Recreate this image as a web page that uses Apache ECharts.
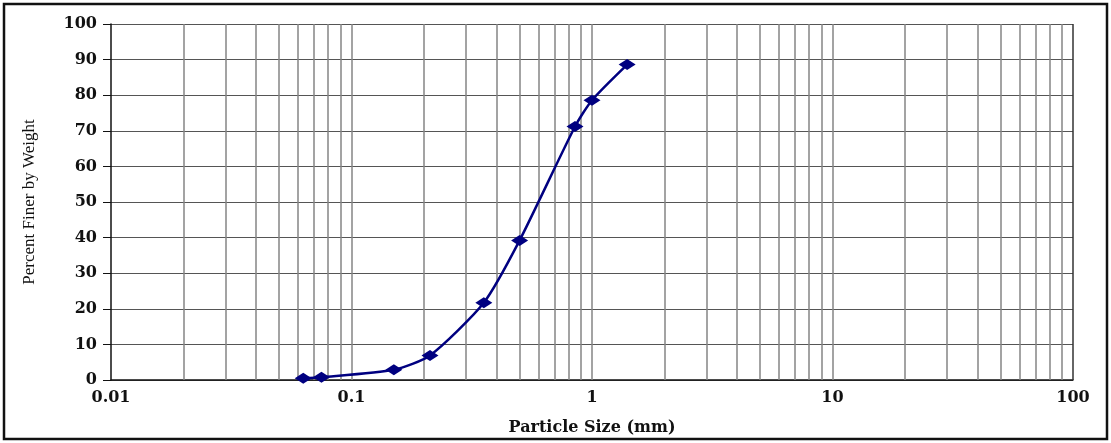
<!DOCTYPE html>
<html><head><meta charset="utf-8">
<script src="https://cdn.jsdelivr.net/npm/echarts@6/dist/echarts.min.js"></script>
<style>html,body{margin:0;padding:0;background:#fff}#c{width:1111px;height:443px}</style>
</head><body><div id="c"></div>
<script>
const particleSize = [0.063, 0.075, 0.15, 0.212, 0.355, 0.5, 0.85, 1.0, 1.4];
const percentFiner = [0.5, 0.8, 2.9, 6.9, 21.7, 39.2, 71.2, 78.6, 88.6];
const minorGrid = [0.02,0.03,0.04,0.05,0.06,0.07,0.08,0.09,
                   0.2,0.3,0.4,0.5,0.6,0.7,0.8,0.9,
                   2,3,4,5,6,7,8,9,
                   20,30,40,50,60,70,80,90,
                   0.1,1,10];
const xTickLabels = {"0.01":"0.01","0.1":"0.1","1":"1","10":"10","100":"100"};

const chart = echarts.init(document.getElementById('c'), null, {renderer:'canvas'});
const lbl = {fontFamily:'DejaVu Serif', fontWeight:'bold', fontSize:16, color:'#111'};
chart.setOption({
  animation:false,
  graphic:[{type:'rect', shape:{x:4,y:4,width:1103,height:435}, style:{fill:'none', stroke:'#111', lineWidth:2.5}}],
  grid:{left:111, right:38, top:24, bottom:63},
  xAxis:{type:'log', min:0.01, max:100, logBase:10,
    name:'Particle Size (mm)', nameLocation:'middle', nameGap:40,
    nameTextStyle:{fontFamily:'DejaVu Serif', fontWeight:'bold', fontSize:16, color:'#111'},
    axisLine:{lineStyle:{color:'#111', width:1.5}},
    axisTick:{show:false},
    splitLine:{show:false},
    axisLabel:Object.assign({margin:10, formatter:v=>{const k=String(Number(v.toPrecision(6)));return xTickLabels[k]!==undefined?xTickLabels[k]:k;}}, lbl)
  },
  yAxis:{type:'value', min:0, max:100, interval:10,
    name:'Percent Finer by Weight', nameLocation:'middle', nameGap:73,
    nameTextStyle:{fontFamily:'Liberation Serif', fontSize:17, color:'#111'},
    axisLine:{show:true, lineStyle:{color:'#111', width:1.5}},
    axisTick:{show:true, inside:false, length:8, lineStyle:{color:'#111'}},
    splitLine:{show:true, lineStyle:{color:'#555', width:1.2}},
    axisLabel:Object.assign({margin:14}, lbl)
  },
  series:[{
    type:'line', data:particleSize.map((x,i)=>[x, percentFiner[i]]),
    smooth:0.22, symbol:'diamond', symbolSize:[17,11],
    lineStyle:{color:'#000080', width:2.5}, itemStyle:{color:'#000080'},
    z:5,
    markLine:{silent:true, symbol:['none','none'], label:{show:false},
      lineStyle:{color:'#858585', width:1.5, type:'solid'},
      data:minorGrid.map(v=>({xAxis:v})).concat([{xAxis:100, lineStyle:{color:'#333'}}]), z:1}
  }]
});
</script></body></html>
